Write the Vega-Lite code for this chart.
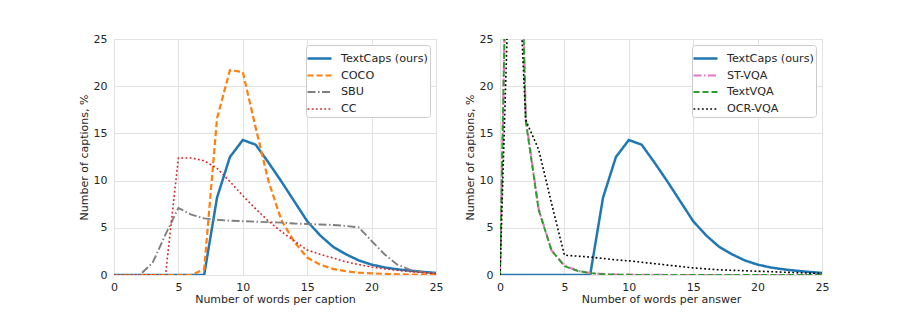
{
  "$schema": "https://vega.github.io/schema/vega-lite/v6.json",
  "padding": {"left": 77, "top": 32, "right": 5, "bottom": 5},
  "background": "white",
  "spacing": 19,
  "datasets": {
    "left": [
      {"x": 0, "TextCaps (ours)": 0, "COCO": 0, "SBU": 0, "CC": 0},
      {"x": 1, "TextCaps (ours)": 0, "COCO": 0, "SBU": 0, "CC": 0},
      {"x": 2, "TextCaps (ours)": 0, "COCO": 0, "SBU": 0, "CC": 0},
      {"x": 3, "TextCaps (ours)": 0, "COCO": 0, "SBU": 1.3, "CC": 0},
      {"x": 4, "TextCaps (ours)": 0, "COCO": 0, "SBU": 4.3, "CC": 0},
      {"x": 5, "TextCaps (ours)": 0, "COCO": 0, "SBU": 7.1, "CC": 12.4},
      {"x": 6, "TextCaps (ours)": 0, "COCO": 0, "SBU": 6.4, "CC": 12.4},
      {"x": 7, "TextCaps (ours)": 0, "COCO": 0.6, "SBU": 6.0, "CC": 12.1},
      {"x": 8, "TextCaps (ours)": 8.2, "COCO": 16.6, "SBU": 5.85, "CC": 11.3},
      {"x": 9, "TextCaps (ours)": 12.5, "COCO": 21.7, "SBU": 5.75, "CC": 9.9},
      {"x": 10, "TextCaps (ours)": 14.3, "COCO": 21.5, "SBU": 5.7, "CC": 8.4},
      {"x": 11, "TextCaps (ours)": 13.8, "COCO": 15.6, "SBU": 5.65, "CC": 7.0},
      {"x": 12, "TextCaps (ours)": 11.9, "COCO": 9.9, "SBU": 5.6, "CC": 5.7},
      {"x": 13, "TextCaps (ours)": 9.9, "COCO": 5.8, "SBU": 5.55, "CC": 4.6},
      {"x": 14, "TextCaps (ours)": 7.8, "COCO": 3.5, "SBU": 5.45, "CC": 3.6},
      {"x": 15, "TextCaps (ours)": 5.7, "COCO": 1.85, "SBU": 5.4, "CC": 2.65},
      {"x": 16, "TextCaps (ours)": 4.2, "COCO": 1.1, "SBU": 5.35, "CC": 2.2},
      {"x": 17, "TextCaps (ours)": 3.0, "COCO": 0.65, "SBU": 5.3, "CC": 1.8},
      {"x": 18, "TextCaps (ours)": 2.2, "COCO": 0.4, "SBU": 5.2, "CC": 1.4},
      {"x": 19, "TextCaps (ours)": 1.55, "COCO": 0.25, "SBU": 5.05, "CC": 1.1},
      {"x": 20, "TextCaps (ours)": 1.1, "COCO": 0.18, "SBU": 3.6, "CC": 0.85},
      {"x": 21, "TextCaps (ours)": 0.8, "COCO": 0.12, "SBU": 2.2, "CC": 0.65},
      {"x": 22, "TextCaps (ours)": 0.6, "COCO": 0.08, "SBU": 1.1, "CC": 0.5},
      {"x": 23, "TextCaps (ours)": 0.45, "COCO": 0.05, "SBU": 0.55, "CC": 0.35},
      {"x": 24, "TextCaps (ours)": 0.33, "COCO": 0.04, "SBU": 0.3, "CC": 0.25},
      {"x": 25, "TextCaps (ours)": 0.22, "COCO": 0.03, "SBU": 0.2, "CC": 0.15}
    ],
    "right": [
      {"x": 0, "TextCaps (ours)": 0, "ST-VQA": 0, "TextVQA": 0, "OCR-VQA": 0},
      {"x": 1, "TextCaps (ours)": 0, "ST-VQA": 72, "TextVQA": 73, "OCR-VQA": 46},
      {"x": 2, "TextCaps (ours)": 0, "ST-VQA": 16.6, "TextVQA": 16.3, "OCR-VQA": 16.4},
      {"x": 3, "TextCaps (ours)": 0, "ST-VQA": 7.0, "TextVQA": 6.9, "OCR-VQA": 13.3},
      {"x": 4, "TextCaps (ours)": 0, "ST-VQA": 2.6, "TextVQA": 2.6, "OCR-VQA": 7.6},
      {"x": 5, "TextCaps (ours)": 0, "ST-VQA": 1.0, "TextVQA": 0.95, "OCR-VQA": 2.1},
      {"x": 6, "TextCaps (ours)": 0, "ST-VQA": 0.45, "TextVQA": 0.45, "OCR-VQA": 2.0},
      {"x": 7, "TextCaps (ours)": 0, "ST-VQA": 0.2, "TextVQA": 0.2, "OCR-VQA": 1.9},
      {"x": 8, "TextCaps (ours)": 8.2, "ST-VQA": 0.1, "TextVQA": 0.08, "OCR-VQA": 1.75},
      {"x": 9, "TextCaps (ours)": 12.5, "ST-VQA": 0.05, "TextVQA": 0.04, "OCR-VQA": 1.6},
      {"x": 10, "TextCaps (ours)": 14.3, "ST-VQA": 0.03, "TextVQA": 0.02, "OCR-VQA": 1.5},
      {"x": 11, "TextCaps (ours)": 13.8, "ST-VQA": 0.02, "TextVQA": 0.01, "OCR-VQA": 1.35},
      {"x": 12, "TextCaps (ours)": 11.9, "ST-VQA": 0.01, "TextVQA": 0.01, "OCR-VQA": 1.2},
      {"x": 13, "TextCaps (ours)": 9.9, "ST-VQA": 0, "TextVQA": 0, "OCR-VQA": 1.05},
      {"x": 14, "TextCaps (ours)": 7.8, "ST-VQA": 0, "TextVQA": 0, "OCR-VQA": 0.9},
      {"x": 15, "TextCaps (ours)": 5.7, "ST-VQA": 0, "TextVQA": 0, "OCR-VQA": 0.75},
      {"x": 16, "TextCaps (ours)": 4.2, "ST-VQA": 0, "TextVQA": 0, "OCR-VQA": 0.65},
      {"x": 17, "TextCaps (ours)": 3.0, "ST-VQA": 0, "TextVQA": 0, "OCR-VQA": 0.55},
      {"x": 18, "TextCaps (ours)": 2.2, "ST-VQA": 0, "TextVQA": 0, "OCR-VQA": 0.5},
      {"x": 19, "TextCaps (ours)": 1.55, "ST-VQA": 0, "TextVQA": 0, "OCR-VQA": 0.45},
      {"x": 20, "TextCaps (ours)": 1.1, "ST-VQA": 0, "TextVQA": 0, "OCR-VQA": 0.4},
      {"x": 21, "TextCaps (ours)": 0.8, "ST-VQA": 0, "TextVQA": 0, "OCR-VQA": 0.35},
      {"x": 22, "TextCaps (ours)": 0.6, "ST-VQA": 0, "TextVQA": 0, "OCR-VQA": 0.3},
      {"x": 23, "TextCaps (ours)": 0.45, "ST-VQA": 0, "TextVQA": 0, "OCR-VQA": 0.25},
      {"x": 24, "TextCaps (ours)": 0.33, "ST-VQA": 0, "TextVQA": 0, "OCR-VQA": 0.2},
      {"x": 25, "TextCaps (ours)": 0.22, "ST-VQA": 0, "TextVQA": 0, "OCR-VQA": 0.18}
    ]
  },
  "hconcat": [
    {
      "width": 322,
      "height": 236,
      "data": {"name": "left"},
      "transform": [{"fold": ["TextCaps (ours)", "COCO", "SBU", "CC"], "as": ["series", "value"]}],
      "mark": {"type": "line", "clip": true},
      "encoding": {
        "x": {"field": "x", "type": "quantitative", "title": "Number of words per caption", "scale": {"domain": [0, 25], "nice": false}, "axis": {"values": [0, 5, 10, 15, 20, 25], "labelPadding": 6, "titlePadding": 1}},
        "y": {"field": "value", "type": "quantitative", "title": "Number of captions, %", "scale": {"domain": [0, 25], "nice": false}, "axis": {"values": [0, 5, 10, 15, 20, 25], "labelPadding": 7, "titlePadding": 4}},
        "color": {"field": "series", "type": "nominal", "title": null, "scale": {"domain": ["TextCaps (ours)", "COCO", "SBU", "CC"], "range": ["#1f77b4", "#ff7f0e", "#7f7f7f", "#d62728"]}},
        "strokeDash": {"field": "series", "type": "nominal", "title": null, "scale": {"domain": ["TextCaps (ours)", "COCO", "SBU", "CC"], "range": [[1, 0], [6, 3], [8, 2.5, 1.5, 2.5], [1.8, 2.4]]}},
        "strokeWidth": {"field": "series", "type": "nominal", "title": null, "scale": {"domain": ["TextCaps (ours)", "COCO", "SBU", "CC"], "range": [2.5, 1.6, 1.6, 1.8]}}
      }
    },
    {
      "width": 322,
      "height": 236,
      "data": {"name": "right"},
      "transform": [{"fold": ["TextCaps (ours)", "ST-VQA", "TextVQA", "OCR-VQA"], "as": ["series", "value"]}],
      "mark": {"type": "line", "clip": true},
      "encoding": {
        "x": {"field": "x", "type": "quantitative", "title": "Number of words per answer", "scale": {"domain": [0, 25], "nice": false}, "axis": {"values": [0, 5, 10, 15, 20, 25], "labelPadding": 6, "titlePadding": 1}},
        "y": {"field": "value", "type": "quantitative", "title": "Number of captions, %", "scale": {"domain": [0, 25], "nice": false}, "axis": {"values": [0, 5, 10, 15, 20, 25], "labelPadding": 7, "titlePadding": 4}},
        "color": {"field": "series", "type": "nominal", "title": null, "scale": {"domain": ["TextCaps (ours)", "ST-VQA", "TextVQA", "OCR-VQA"], "range": ["#1f77b4", "#e377c2", "#2ca02c", "#000000"]}},
        "strokeDash": {"field": "series", "type": "nominal", "title": null, "scale": {"domain": ["TextCaps (ours)", "ST-VQA", "TextVQA", "OCR-VQA"], "range": [[1, 0], [8, 2.5, 1.5, 2.5], [6, 3], [1.8, 2.4]]}},
        "strokeWidth": {"field": "series", "type": "nominal", "title": null, "scale": {"domain": ["TextCaps (ours)", "ST-VQA", "TextVQA", "OCR-VQA"], "range": [2.5, 1.6, 1.6, 1.8]}}
      }
    }
  ],
  "resolve": {
    "scale": {"color": "independent", "strokeDash": "independent", "strokeWidth": "independent", "x": "independent", "y": "independent"},
    "legend": {"color": "independent", "strokeDash": "independent", "strokeWidth": "independent"}
  },
  "config": {
    "font": "DejaVu Sans",
    "view": {"stroke": "#d4d4d4", "strokeWidth": 1},
    "axis": {"domain": false, "ticks": false, "grid": true, "gridColor": "#e2e2e2", "gridWidth": 1, "labelFlush": false, "labelOverlap": false, "labelFontSize": 11, "titleFontSize": 11, "labelColor": "#262626", "titleColor": "#262626", "titleFontWeight": "normal", "labelFont": "DejaVu Sans", "titleFont": "DejaVu Sans"},
    "legend": {"orient": "top-right", "offset": 6, "padding": 2, "strokeColor": "#cccccc", "fillColor": "white", "cornerRadius": 3, "labelFontSize": 11.2, "labelColor": "#262626", "labelFont": "DejaVu Sans", "symbolType": "M-1.2,0H1.2", "symbolSize": 400, "rowPadding": 0, "labelOffset": 10}
  }
}
